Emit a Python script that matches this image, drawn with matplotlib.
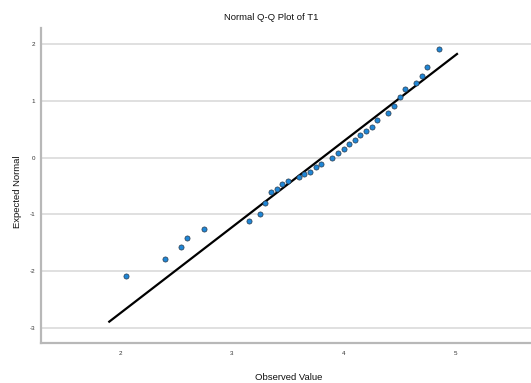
import matplotlib
matplotlib.use("Agg")
import matplotlib.pyplot as plt
import numpy as np

observed = [2.05, 2.40, 2.55, 2.60, 2.75, 3.15, 3.25, 3.30, 3.35, 3.40,
            3.45, 3.50, 3.60, 3.65, 3.70, 3.75, 3.80, 3.90, 3.95, 4.00,
            4.05, 4.10, 4.15, 4.20, 4.25, 4.30, 4.40, 4.45, 4.50, 4.55,
            4.65, 4.70, 4.75, 4.85]
expected = [-2.08, -1.79, -1.57, -1.42, -1.26, -1.12, -0.99, -0.80, -0.61, -0.56,
            -0.47, -0.41, -0.34, -0.29, -0.25, -0.17, -0.11, -0.01, 0.08, 0.16,
            0.24, 0.31, 0.39, 0.47, 0.54, 0.66, 0.79, 0.91, 1.07, 1.21,
            1.32, 1.44, 1.60, 1.91]

# Reference normal line: y = (x - mean) / sd
line_mean = 3.81
line_sd = 0.66
line_x = [1.904, 5.014]

x_ticks = [2, 3, 4, 5]
y_ticks = [-3, -2, -1, 0, 1, 2]

title = "Normal Q-Q Plot of T1"
xlabel = "Observed Value"
ylabel = "Expected Normal"

plt.rcParams['font.family'] = ['Liberation Sans', 'DejaVu Sans']
plt.rcParams['axes.unicode_minus'] = False

fig = plt.figure(figsize=(5.31, 3.83), dpi=100)
ax = fig.add_axes([0.0765, 0.1044, 0.9235, 0.8225])

lx = np.array(line_x)
ly = (lx - line_mean) / line_sd
ax.plot(lx, ly, color='black', linewidth=1.6, zorder=2)

ax.plot(observed, expected, linestyle='none', marker='o', markersize=3.7,
        markerfacecolor='#1f86d6', markeredgecolor='#2b3a4a',
        markeredgewidth=0.5, zorder=3)

ax.set_xlim(1.29, 5.676)
ax.set_ylim(-3.264, 2.282)
ax.set_xticks(x_ticks)
ax.set_yticks(y_ticks)
ax.set_xticklabels([str(v) for v in x_ticks])
ax.set_yticklabels([str(v) for v in y_ticks])
ax.tick_params(axis='both', length=0, labelsize=4.5, colors='#333333')
ax.tick_params(axis='y', pad=4)
ax.tick_params(axis='x', pad=6)

ax.grid(axis='y', color='#dadada', linewidth=1.2)
ax.set_axisbelow(True)
for s in ['top', 'right']:
    ax.spines[s].set_visible(False)
for s in ['left', 'bottom']:
    ax.spines[s].set_color('#b8b8b8')
    ax.spines[s].set_linewidth(1.6)

fig.text(271.5 / 531, 1 - 18 / 383, title, ha='center', va='center',
         fontsize=6.8, color='#111111')
fig.text(289 / 531, 1 - 377 / 383, xlabel, ha='center', va='center',
         fontsize=6.8, color='#111111')
fig.text(18 / 531, 1 - 192 / 383, ylabel, ha='center', va='center',
         rotation=90, fontsize=6.8, color='#111111')

fig.savefig("out.png", dpi=100)
